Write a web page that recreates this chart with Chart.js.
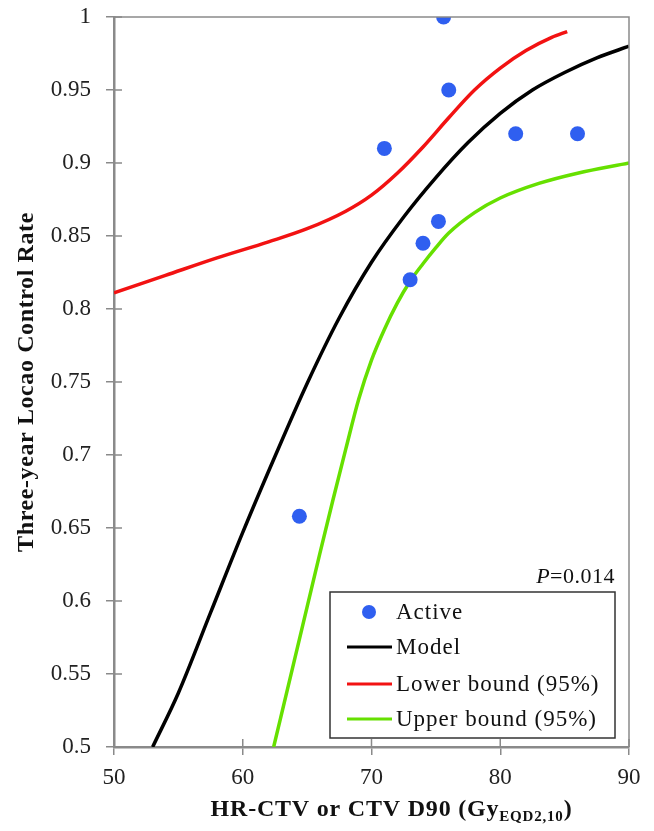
<!DOCTYPE html>
<html>
<head>
<meta charset="utf-8">
<script src="https://cdn.jsdelivr.net/npm/chart.js@4.4.1/dist/chart.umd.min.js"></script>
<style>
  html, body { margin: 0; padding: 0; background: #fff; }
  #wrap { width: 654px; height: 831px; }
</style>
</head>
<body>
<div id="wrap"><canvas id="c" width="654" height="831"></canvas></div>
<script>
// tick labels
const xTicks = [50, 60, 70, 80, 90];
const yTicks = [0.5, 0.55, 0.6, 0.65, 0.7, 0.75, 0.8, 0.85, 0.9, 0.95, 1];

// observed points (Active)
const activeX = [64.4, 71.0, 73.0, 74.0, 75.2, 75.6, 76.0, 81.2, 86.0];
const activeY = [0.658, 0.91, 0.82, 0.845, 0.86, 1.0, 0.95, 0.92, 0.92];

// model curve
const modelX = [53, 55, 57.5, 60, 62.5, 65, 67.5, 70, 72.5, 75, 77.5, 80, 82.5, 85, 87.5, 90];
const modelY = [0.5, 0.537, 0.592, 0.647, 0.699, 0.749, 0.794, 0.832, 0.863, 0.89, 0.914, 0.934, 0.95, 0.962, 0.972, 0.98];

// lower bound (95%)
const lowerX = [50, 54, 58, 62, 65, 68, 70, 72, 74, 76, 78, 80, 82, 84, 85.2];
const lowerY = [0.811, 0.823, 0.835, 0.846, 0.855, 0.867, 0.878, 0.893, 0.911, 0.931, 0.95, 0.965, 0.977, 0.986, 0.99];

// upper bound (95%)
const upperX = [62.4, 64, 65, 66, 67, 68, 69, 70, 71, 72, 73, 74, 75, 76, 78, 80, 83, 86, 90];
const upperY = [0.5, 0.559, 0.596, 0.633, 0.669, 0.704, 0.738, 0.765, 0.786, 0.804, 0.819, 0.831, 0.842, 0.852, 0.866, 0.876, 0.886, 0.893, 0.9];

const pText = 'P=0.014';
const xTitleMain = 'HR-CTV or CTV D90 (Gy';
const xTitleSub = 'EQD2,10';
const yTitle = 'Three-year Locao Control Rate';

const serif = '"Liberation Serif", "Times New Roman", serif';
const axisGrey = '#8a8a8a';

function pts(xs, ys) {
    return xs.map((v, i) => ({ x: v, y: ys[i] }));
}

const overlay = {
    id: 'overlay',
    afterDraw(chart) {
        const { ctx, chartArea: a, scales } = chart;
        const x = scales.x, y = scales.y;
        ctx.save();

        // frame top and right
        ctx.strokeStyle = axisGrey;
        ctx.lineWidth = 1.5;
        ctx.beginPath();
        ctx.moveTo(a.left, a.top);
        ctx.lineTo(a.right, a.top);
        ctx.lineTo(a.right, a.bottom);
        ctx.stroke();

        // inner half of the tick marks
        ctx.beginPath();
        y.ticks.forEach(t => {
            const py = y.getPixelForValue(t.value);
            ctx.moveTo(a.left, py);
            ctx.lineTo(a.left + 8, py);
        });
        x.ticks.forEach(t => {
            const px = x.getPixelForValue(t.value);
            ctx.moveTo(px, a.bottom);
            ctx.lineTo(px, a.bottom - 8);
        });
        ctx.stroke();

        // y title
        ctx.fillStyle = '#111';
        ctx.save();
        ctx.translate(27, (a.top + a.bottom) / 2);
        ctx.rotate(-Math.PI / 2);
        ctx.font = 'bold 24px ' + serif;
        ctx.letterSpacing = '0.6px';
        ctx.textAlign = 'center';
        ctx.textBaseline = 'middle';
        ctx.fillText(yTitle, 0, 0);
        ctx.restore();

        // x title with subscript
        ctx.letterSpacing = '0.8px';
        ctx.textBaseline = 'alphabetic';
        ctx.textAlign = 'left';
        ctx.font = 'bold 24px ' + serif;
        const w1 = ctx.measureText(xTitleMain).width;
        const w3 = ctx.measureText(')').width;
        ctx.font = 'bold 15px ' + serif;
        const w2 = ctx.measureText(xTitleSub).width;
        const tx = (a.left + a.right) / 2 + 20 - (w1 + w2 + w3) / 2;
        const ty = 816;
        ctx.font = 'bold 24px ' + serif;
        ctx.fillText(xTitleMain, tx, ty);
        ctx.font = 'bold 15px ' + serif;
        ctx.fillText(xTitleSub, tx + w1, ty + 5);
        ctx.font = 'bold 24px ' + serif;
        ctx.fillText(')', tx + w1 + w2, ty);

        // P value
        ctx.letterSpacing = '0.5px';
        ctx.font = '22px ' + serif;
        ctx.textAlign = 'right';
        const rest = pText.slice(1);
        const wr = ctx.measureText(rest).width;
        const pr = a.right - 14;
        ctx.fillText(rest, pr, a.bottom - 164);
        ctx.font = 'italic 22px ' + serif;
        ctx.fillText(pText[0], pr - wr, a.bottom - 164);

        // legend box
        const bw = 285, bh = 146;
        const bx = a.right - 14 - bw, by = a.bottom - 9 - bh;
        ctx.fillStyle = '#fff';
        ctx.fillRect(bx, by, bw, bh);
        ctx.strokeStyle = '#333';
        ctx.lineWidth = 1.5;
        ctx.strokeRect(bx, by, bw, bh);
        const rows = [20, 55, 92, 127];
        ctx.letterSpacing = '1px';
        ctx.font = '23px ' + serif;
        ctx.textAlign = 'left';
        ctx.textBaseline = 'middle';
        chart.data.datasets.forEach((ds, i) => {
            const ry = by + rows[i];
            if (ds.showLine === false) {
                ctx.fillStyle = ds.backgroundColor;
                ctx.beginPath();
                ctx.arc(bx + 39, ry, 7, 0, Math.PI * 2);
                ctx.fill();
            } else {
                ctx.strokeStyle = ds.borderColor;
                ctx.lineWidth = 3;
                ctx.beginPath();
                ctx.moveTo(bx + 17, ry);
                ctx.lineTo(bx + 62, ry);
                ctx.stroke();
            }
            ctx.fillStyle = '#111';
            ctx.fillText(ds.label, bx + 66, ry + 1);
        });

        ctx.restore();
    }
};

new Chart(document.getElementById('c'), {
    type: 'scatter',
    data: {
        datasets: [
            {
                label: 'Active',
                data: pts(activeX, activeY),
                showLine: false,
                backgroundColor: '#2f5ff0',
                borderColor: '#2f5ff0',
                pointRadius: 7.5,
                pointBorderWidth: 0
            },
            {
                label: 'Model',
                data: pts(modelX, modelY),
                showLine: true,
                borderColor: '#000000',
                backgroundColor: '#000000',
                borderWidth: 3.5,
                pointRadius: 0,
                cubicInterpolationMode: 'monotone'
            },
            {
                label: 'Lower bound (95%)',
                data: pts(lowerX, lowerY),
                showLine: true,
                borderColor: '#f21212',
                backgroundColor: '#f21212',
                borderWidth: 3.5,
                pointRadius: 0,
                cubicInterpolationMode: 'monotone'
            },
            {
                label: 'Upper bound (95%)',
                data: pts(upperX, upperY),
                showLine: true,
                borderColor: '#66e000',
                backgroundColor: '#66e000',
                borderWidth: 3.5,
                pointRadius: 0,
                cubicInterpolationMode: 'monotone'
            }
        ]
    },
    options: {
        responsive: false,
        animation: false,
        layout: { padding: { top: 17, right: 25, left: 0, bottom: 0 } },
        plugins: {
            legend: { display: false },
            tooltip: { enabled: false }
        },
        scales: {
            x: {
                type: 'linear',
                min: 50,
                max: 90,
                afterBuildTicks: axis => { axis.ticks = xTicks.map(v => ({ value: v })); },
                afterFit: axis => { axis.height = 84; axis.paddingLeft = 0; axis.paddingRight = 0; },
                grid: { display: true, drawOnChartArea: false, drawTicks: true, tickLength: 8, color: axisGrey, lineWidth: 1.5 },
                border: { display: true, color: axisGrey, width: 2.5 },
                ticks: {
                    color: '#222',
                    font: { family: serif, size: 23 },
                    padding: 9,
                    maxRotation: 0,
                    callback: v => String(v)
                }
            },
            y: {
                type: 'linear',
                min: 0.5,
                max: 1,
                afterBuildTicks: axis => { axis.ticks = yTicks.map(v => ({ value: v })); },
                afterFit: axis => { axis.width = 114; axis.paddingTop = 0; axis.paddingBottom = 0; },
                grid: { display: true, drawOnChartArea: false, drawTicks: true, tickLength: 8, color: axisGrey, lineWidth: 1.5 },
                border: { display: true, color: axisGrey, width: 2.5 },
                ticks: {
                    color: '#222',
                    font: { family: serif, size: 23 },
                    padding: 15,
                    callback: v => String(Number(v.toFixed(2)))
                }
            }
        }
    },
    plugins: [overlay]
});
</script>
</body>
</html>
